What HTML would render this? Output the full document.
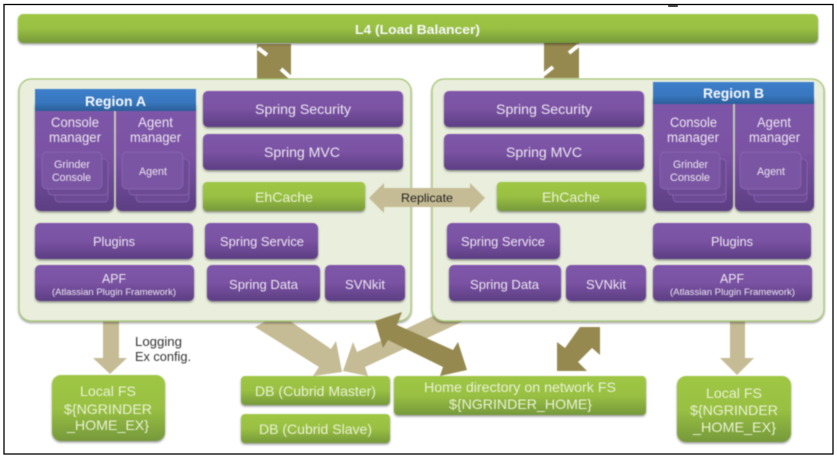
<!DOCTYPE html>
<html><head><meta charset="utf-8"><style>
html,body{margin:0;padding:0;background:#fff;width:837px;height:458px;overflow:hidden}
svg{display:block}
.soft{filter:blur(.6px)}
text{font-family:"Liberation Sans",sans-serif;fill:#ece6f1}
.n{font-size:14px}.s{font-size:11px}.t{font-size:9px}.b{font-size:14px;font-weight:bold;fill:#f6f8fc}
.g{font-size:14px;fill:#e9f2d4}.d{font-size:13px;fill:#333}
</style></head><body>
<svg width="837" height="458" viewBox="0 0 837 458" xmlns="http://www.w3.org/2000/svg">
<defs>
<linearGradient id="p" x1="0" y1="0" x2="0" y2="1"><stop offset="0" stop-color="#7f57aa"/><stop offset=".5" stop-color="#7a52a3"/><stop offset="1" stop-color="#5c3e83"/></linearGradient>
<linearGradient id="gr" x1="0" y1="0" x2="0" y2="1"><stop offset="0" stop-color="#9fc744"/><stop offset=".5" stop-color="#99c043"/><stop offset="1" stop-color="#76993a"/></linearGradient>
<linearGradient id="bl" x1="0" y1="0" x2="0" y2="1"><stop offset="0" stop-color="#3d7fcb"/><stop offset=".6" stop-color="#3877bf"/><stop offset="1" stop-color="#2a5f98"/></linearGradient>
<filter id="sh" x="-5%" y="-10%" width="110%" height="125%"><feDropShadow dx="0" dy="1.5" stdDeviation="1" flood-color="#000" flood-opacity=".4"/></filter>
</defs>
<rect width="837" height="458" fill="#fff"/>
<rect x="4" y="4.5" width="829" height="449.5" fill="#fff" stroke="#000" stroke-width="1.3"/>
<rect x="668" y="5" width="10" height="2" rx="1" fill="#444"/>

<g class="soft">
<!-- top arrows -->
<rect x="257" y="44" width="34" height="35" fill="#96894f"/>
<line x1="258" y1="48" x2="267" y2="55" stroke="#fff" stroke-width="4"/>
<line x1="281" y1="69" x2="291" y2="78" stroke="#fff" stroke-width="4"/>
<rect x="544" y="43" width="35" height="35" fill="#96894f"/>
<line x1="569" y1="53" x2="579" y2="45" stroke="#fff" stroke-width="4"/>
<line x1="543" y1="75" x2="553" y2="67" stroke="#fff" stroke-width="4"/>

<!-- L4 -->
<rect x="18" y="14" width="800" height="29" rx="5" fill="url(#gr)" filter="url(#sh)"/>
<text class="b" x="355" y="34" textLength="125" lengthAdjust="spacingAndGlyphs" style="font-size:13px">L4 (Load Balancer)</text>

<!-- Lower arrows beneath panels -->
<polygon points="103,318 119,318 119,358 127,358 110,374 93,358 103,358" fill="#c5bb94"/>
<polygon points="730,318 745,318 745,358 754,358 737,375 720,358 730,358" fill="#c5bb94"/>
<polygon points="255,327 270,319 287,319 331,349 336,341 342,372 313,376 319,367" fill="#c5bb94"/>
<polygon points="343,371 353,342 357,352 433,316 468,319 365,367 368,376" fill="#c5bb94"/>

<!-- panels -->
<rect x="19" y="79" width="392" height="242" rx="12" fill="#e9eedd" stroke="#a5c672" stroke-width="1.2" filter="url(#sh)"/>
<rect x="432" y="79" width="392" height="242" rx="12" fill="#e9eedd" stroke="#a5c672" stroke-width="1.2" filter="url(#sh)"/>

<!-- dark lower arrows on top -->
<polygon points="375,321 402,312 397,325 453,350 458,342 467,370 440,376 443,367 388,340 383,348" fill="#96894f"/>
<polygon points="600,327 600,355 592,348 578,362 587,371 557,371 557,342 565,348 580,327" fill="#96894f"/>

<!-- Replicate -->
<polygon points="369,198 384,183 384,188 470,188 470,183 485,198 470,213 470,207 384,207 384,213" fill="#c5bb94"/>
<text x="401" y="202" textLength="52" lengthAdjust="spacingAndGlyphs" style="font-size:12px;fill:#222">Replicate</text>

<g filter="url(#sh)">
<!-- Region A -->
<rect x="35" y="100" width="79" height="111" rx="6" fill="url(#p)"/>
<rect x="116" y="100" width="80" height="111" rx="6" fill="url(#p)"/>
<rect x="203" y="91" width="200" height="36" rx="5" fill="url(#p)"/>
<rect x="203" y="134" width="200" height="36" rx="5" fill="url(#p)"/>
<rect x="203" y="182" width="162" height="29" rx="4" fill="url(#gr)"/>
<rect x="35" y="223" width="158" height="36" rx="5" fill="url(#p)"/>
<rect x="205" y="223" width="113" height="36" rx="5" fill="url(#p)"/>
<rect x="35" y="265" width="159" height="36" rx="5" fill="url(#p)"/>
<rect x="207" y="265" width="113" height="36" rx="5" fill="url(#p)"/>
<rect x="325" y="265" width="80" height="36" rx="5" fill="url(#p)"/>
<!-- Region B -->
<rect x="653" y="94" width="80" height="117" rx="6" fill="url(#p)"/>
<rect x="735" y="94" width="79" height="117" rx="6" fill="url(#p)"/>
<rect x="444" y="91" width="200" height="36" rx="5" fill="url(#p)"/>
<rect x="444" y="134" width="200" height="36" rx="5" fill="url(#p)"/>
<rect x="497" y="182" width="149" height="29" rx="4" fill="url(#gr)"/>
<rect x="447" y="223" width="113" height="36" rx="5" fill="url(#p)"/>
<rect x="653" y="223" width="158" height="36" rx="5" fill="url(#p)"/>
<rect x="449" y="265" width="112" height="36" rx="5" fill="url(#p)"/>
<rect x="566" y="265" width="80" height="36" rx="5" fill="url(#p)"/>
<rect x="653" y="265" width="159" height="36" rx="5" fill="url(#p)"/>
<!-- Bottom -->
<rect x="52" y="375" width="113" height="66" rx="9" fill="url(#gr)"/>
<rect x="241" y="376" width="149" height="29" rx="4" fill="url(#gr)"/>
<rect x="241" y="414" width="149" height="29" rx="4" fill="url(#gr)"/>
<rect x="394" y="376" width="252" height="39" rx="4" fill="url(#gr)"/>
<rect x="677" y="376" width="114" height="66" rx="9" fill="url(#gr)"/>
</g>

<!-- headers -->
<rect x="35" y="89" width="161" height="22" fill="url(#bl)"/>
<rect x="653" y="82" width="161" height="22" fill="url(#bl)"/>

<!-- stacked cards -->
<g fill="#6c4a94" stroke="#8d6ab5" stroke-width=".7">
<rect x="55" y="165" width="53" height="37" rx="4"/><rect x="48" y="159" width="60" height="36" rx="4"/><rect x="42" y="152" width="60" height="37" rx="5" fill="#7a55a3"/>
<rect x="136" y="165" width="53" height="37" rx="4"/><rect x="129" y="159" width="60" height="36" rx="4"/><rect x="122" y="152" width="61" height="37" rx="5" fill="#7a55a3"/>
<rect x="673" y="165" width="53" height="37" rx="4"/><rect x="668" y="159" width="58" height="36" rx="4"/><rect x="660" y="152" width="60" height="37" rx="5" fill="#7a55a3"/>
<rect x="754" y="165" width="53" height="37" rx="4"/><rect x="748" y="159" width="59" height="36" rx="4"/><rect x="740" y="152" width="61" height="37" rx="5" fill="#7a55a3"/>
</g>

<!-- Text A -->
<text class="b" x="85" y="106" textLength="61" lengthAdjust="spacingAndGlyphs">Region A</text>
<text class="n" x="51" y="127" textLength="48" lengthAdjust="spacingAndGlyphs">Console</text>
<text class="n" x="49" y="142" textLength="52" lengthAdjust="spacingAndGlyphs">manager</text>
<text class="n" x="138" y="127" textLength="35" lengthAdjust="spacingAndGlyphs">Agent</text>
<text class="n" x="130" y="142" textLength="51" lengthAdjust="spacingAndGlyphs">manager</text>
<text class="s" x="54" y="168" textLength="36" lengthAdjust="spacingAndGlyphs">Grinder</text>
<text class="s" x="52" y="181" textLength="39" lengthAdjust="spacingAndGlyphs">Console</text>
<text class="s" x="139" y="175" textLength="28" lengthAdjust="spacingAndGlyphs">Agent</text>
<text class="n" x="255" y="114" textLength="96" lengthAdjust="spacingAndGlyphs">Spring Security</text>
<text class="n" x="264" y="157" textLength="76" lengthAdjust="spacingAndGlyphs">Spring MVC</text>
<text class="g" x="255" y="202" textLength="58" lengthAdjust="spacingAndGlyphs">EhCache</text>
<text class="n" x="93" y="246" textLength="42" lengthAdjust="spacingAndGlyphs" style="font-size:13px">Plugins</text>
<text class="n" x="220" y="246" textLength="84" lengthAdjust="spacingAndGlyphs" style="font-size:13px">Spring Service</text>
<text class="n" x="102" y="283" textLength="24" lengthAdjust="spacingAndGlyphs" style="font-size:13px">APF</text>
<text class="t" x="52" y="295" textLength="124" lengthAdjust="spacingAndGlyphs">(Atlassian Plugin Framework)</text>
<text class="n" x="229" y="289" textLength="69" lengthAdjust="spacingAndGlyphs" style="font-size:13px">Spring Data</text>
<text class="n" x="345" y="289" textLength="40" lengthAdjust="spacingAndGlyphs" style="font-size:13px">SVNkit</text>

<!-- Text B -->
<text class="b" x="703" y="98" textLength="61" lengthAdjust="spacingAndGlyphs">Region B</text>
<text class="n" x="670" y="127" textLength="47" lengthAdjust="spacingAndGlyphs">Console</text>
<text class="n" x="667" y="142" textLength="52" lengthAdjust="spacingAndGlyphs">manager</text>
<text class="n" x="757" y="127" textLength="34" lengthAdjust="spacingAndGlyphs">Agent</text>
<text class="n" x="749" y="142" textLength="51" lengthAdjust="spacingAndGlyphs">manager</text>
<text class="s" x="673" y="168" textLength="35" lengthAdjust="spacingAndGlyphs">Grinder</text>
<text class="s" x="670" y="181" textLength="40" lengthAdjust="spacingAndGlyphs">Console</text>
<text class="s" x="757" y="175" textLength="28" lengthAdjust="spacingAndGlyphs">Agent</text>
<text class="n" x="496" y="114" textLength="96" lengthAdjust="spacingAndGlyphs">Spring Security</text>
<text class="n" x="506" y="157" textLength="76" lengthAdjust="spacingAndGlyphs">Spring MVC</text>
<text class="g" x="542" y="202" textLength="58" lengthAdjust="spacingAndGlyphs">EhCache</text>
<text class="n" x="461" y="246" textLength="84" lengthAdjust="spacingAndGlyphs" style="font-size:13px">Spring Service</text>
<text class="n" x="711" y="246" textLength="42" lengthAdjust="spacingAndGlyphs" style="font-size:13px">Plugins</text>
<text class="n" x="470" y="289" textLength="69" lengthAdjust="spacingAndGlyphs" style="font-size:13px">Spring Data</text>
<text class="n" x="586" y="289" textLength="40" lengthAdjust="spacingAndGlyphs" style="font-size:13px">SVNkit</text>
<text class="n" x="720" y="283" textLength="24" lengthAdjust="spacingAndGlyphs" style="font-size:13px">APF</text>
<text class="t" x="670" y="295" textLength="125" lengthAdjust="spacingAndGlyphs">(Atlassian Plugin Framework)</text>

<!-- Bottom text -->
<text class="d" x="135" y="346" textLength="47" lengthAdjust="spacingAndGlyphs">Logging</text>
<text class="d" x="135" y="361" textLength="56" lengthAdjust="spacingAndGlyphs">Ex config.</text>
<text class="g" x="80" y="396" textLength="56" lengthAdjust="spacingAndGlyphs">Local FS</text>
<text class="g" x="64" y="414" textLength="88" lengthAdjust="spacingAndGlyphs">${NGRINDER</text>
<text class="g" x="67" y="430" textLength="82" lengthAdjust="spacingAndGlyphs">_HOME_EX}</text>
<text class="g" x="255" y="396" textLength="121" lengthAdjust="spacingAndGlyphs">DB (Cubrid Master)</text>
<text class="g" x="259" y="434" textLength="113" lengthAdjust="spacingAndGlyphs">DB (Cubrid Slave)</text>
<text class="g" x="424" y="392" textLength="192" lengthAdjust="spacingAndGlyphs">Home directory on network FS</text>
<text class="g" x="449" y="409" textLength="143" lengthAdjust="spacingAndGlyphs">${NGRINDER_HOME}</text>
<text class="g" x="706" y="398" textLength="56" lengthAdjust="spacingAndGlyphs">Local FS</text>
<text class="g" x="690" y="415" textLength="88" lengthAdjust="spacingAndGlyphs">${NGRINDER</text>
<text class="g" x="693" y="432" textLength="83" lengthAdjust="spacingAndGlyphs">_HOME_EX}</text>
</g>
</svg>
</body></html>
